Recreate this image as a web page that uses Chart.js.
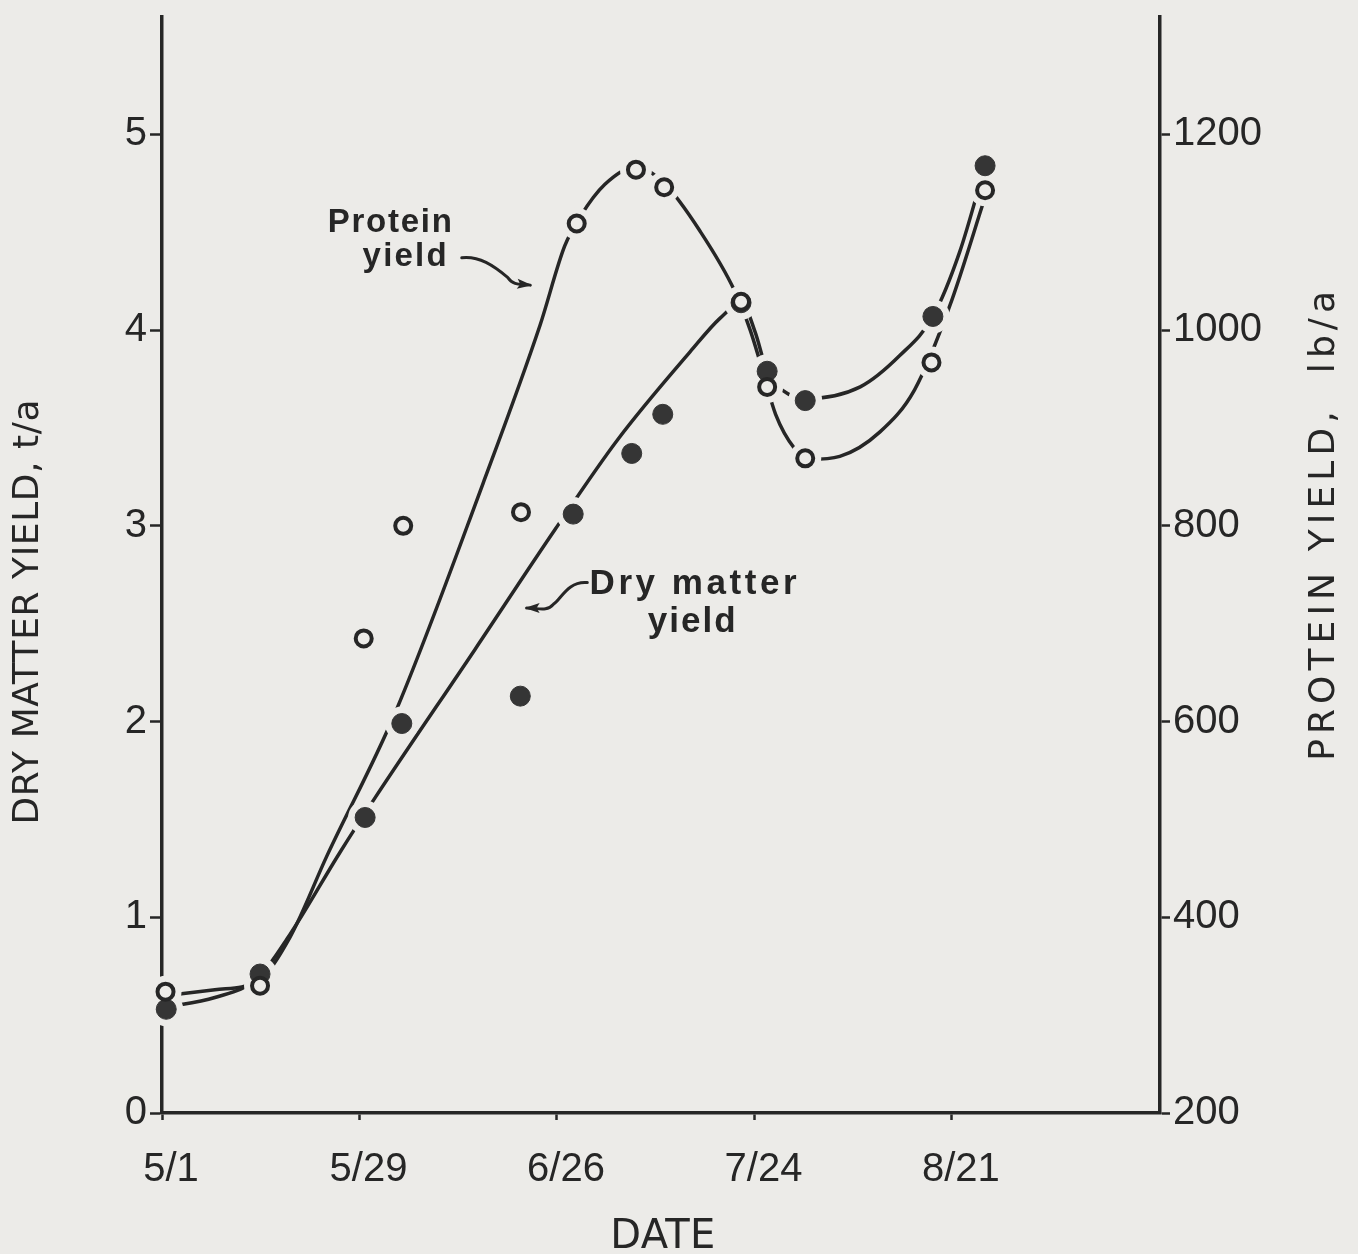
<!DOCTYPE html>
<html>
<head>
<meta charset="utf-8">
<script src="https://cdn.jsdelivr.net/npm/chart.js@4.4.0/dist/chart.umd.min.js"></script>
<style>
  html, body { margin: 0; padding: 0; background: #ecebe8; }
  #wrap { width: 1358px; height: 1254px; }
</style>
</head>
<body>
<div id="wrap"><canvas id="yieldChart" width="1358" height="1254"></canvas></div>
<script>
// ---------- values (x = days after May 1) ---------- //
const dateTicks = [0, 28, 56, 84, 112];
const dateLabels = ["5/1", "5/29", "6/26", "7/24", "8/21"];
const dryMatterTicks = [0, 1, 2, 3, 4, 5];
const proteinTicks = [200, 400, 600, 800, 1000, 1200];

// filled circles: dry matter yield, t/a
const dryMatterDays = [0.6, 13.9, 28.8, 34.0, 50.8, 58.3, 66.6, 71.0, 82.1, 85.8, 91.2, 109.3, 116.7];
const dryMatterYield = [0.53, 0.71, 1.51, 1.99, 2.13, 3.06, 3.37, 3.57, 4.14, 3.79, 3.64, 4.07, 4.84];

// open circles: protein yield, lb/a
const proteinDays = [0.5, 13.9, 28.6, 34.2, 50.9, 58.8, 67.2, 71.2, 82.1, 85.8, 91.2, 109.1, 116.7];
const proteinYield = [324, 330, 685, 800, 814, 1109, 1164, 1146, 1029, 942, 869, 967, 1143];

// hand drawn curves
const dryMatterCurveDays = [0.4, 7.5, 13.6, 18.1, 25.2, 30.2, 44.4, 55.7, 64.6, 74.9, 79.1, 82.2,
  84.1, 85.8, 89.0, 91.2, 99.0, 104.6, 109.3, 113.1, 116.7];
const dryMatterCurve = [0.54, 0.59, 0.69, 0.91, 1.33, 1.61, 2.37, 2.98, 3.44, 3.89, 4.06, 4.14,
  3.99, 3.79, 3.67, 3.65, 3.71, 3.87, 4.07, 4.40, 4.84];

const proteinCurveDays = [0.4, 7.5, 13.6, 18.1, 23.4, 33.0, 45.5, 53.6, 57.1, 59.3, 62.8, 67.2,
  71.2, 76.3, 81.2, 83.4, 85.1, 87.0, 89.7, 91.9, 96.1, 101.8, 106.7, 111.7, 116.7];
const proteinCurve = [320, 326, 335, 379, 463, 608, 843, 1005, 1086, 1116, 1149, 1167,
  1150, 1101, 1040, 1000, 960, 914, 879, 868, 871, 896, 939, 1025, 1136];

// ---------- helpers ---------- //
const INK = "#262626";
const PAPER = "#ecebe8";

function toPoints(xs, ys) {
  return xs.map((x, i) => ({ x: x, y: ys[i] }));
}

function fitText(ctx, text, x, y, width) {
  // draws text centred on x, stretched or squeezed to the given width
  ctx.letterSpacing = "0px";
  const natural = ctx.measureText(text).width;
  ctx.textAlign = "left";
  if (natural < width) {
    const gap = (width - natural) / (text.length - 1);
    ctx.letterSpacing = gap + "px";
    ctx.fillText(text, x - width / 2, y);
    ctx.letterSpacing = "0px";
  } else {
    ctx.fillText(text, x - width / 2, y, width);
  }
}

function arrowHead(ctx, tip, angle) {
  const len = 13, half = 5;
  ctx.save();
  ctx.translate(tip[0], tip[1]);
  ctx.rotate(angle);
  ctx.beginPath();
  ctx.moveTo(2, 0);
  ctx.lineTo(-len, -half);
  ctx.lineTo(-len + 3, 0);
  ctx.lineTo(-len, half);
  ctx.closePath();
  ctx.fill();
  ctx.restore();
}

const paperPlugin = {
  id: "paper",
  beforeDraw(chart) {
    const ctx = chart.ctx;
    ctx.save();
    ctx.fillStyle = PAPER;
    ctx.fillRect(0, 0, chart.width, chart.height);
    ctx.restore();
  },
};

const labelsPlugin = {
  id: "labels",
  afterDraw(chart) {
    const ctx = chart.ctx;
    const sx = chart.scales.x;
    const sy = chart.scales.y;
    const at = (d, v) => [sx.getPixelForValue(d), sy.getPixelForValue(v)];

    ctx.save();
    ctx.fillStyle = INK;
    ctx.strokeStyle = INK;
    ctx.textBaseline = "alphabetic";

    // axis titles
    ctx.font = "36px 'DejaVu Sans'";
    ctx.save();
    ctx.translate(38, sy.getPixelForValue(2.56));
    ctx.rotate(-Math.PI / 2);
    fitText(ctx, "DRY MATTER YIELD, t/a", 0, 0, 425);
    ctx.restore();

    ctx.save();
    ctx.translate(1334, sy.getPixelForValue(3.0));
    ctx.rotate(-Math.PI / 2);
    fitText(ctx, "PROTEIN YIELD,  lb/a", 0, 0, 470);
    ctx.restore();

    ctx.font = "40px 'DejaVu Sans'";
    fitText(ctx, "DATE", sx.getPixelForValue(71), 1248, 105);

    // curve labels
    ctx.font = "bold 33px 'Liberation Sans'";
    let p = at(32.3, 4.50);
    fitText(ctx, "Protein", p[0], p[1], 124);
    p = at(34.4, 4.33);
    fitText(ctx, "yield", p[0], p[1], 84);

    ctx.font = "bold 35px 'Liberation Sans'";
    p = at(75.3, 2.65);
    fitText(ctx, "Dry matter", p[0], p[1], 207);
    p = at(75.1, 2.46);
    fitText(ctx, "yield", p[0], p[1], 88);

    // arrows
    ctx.lineWidth = 3;
    ctx.lineCap = "round";
    ctx.beginPath();
    let a = at(42.5, 4.37), b = at(45.0, 4.38), c = at(47.0, 4.33), d = at(49.0, 4.27);
    ctx.moveTo(a[0], a[1]);
    ctx.bezierCurveTo(b[0], b[1], c[0], c[1], d[0], d[1]);
    b = at(50.0, 4.22); c = at(51.0, 4.24); d = at(52.2, 4.23);
    ctx.bezierCurveTo(b[0], b[1], c[0], c[1], d[0], d[1]);
    ctx.stroke();
    arrowHead(ctx, d, 0.1);

    ctx.beginPath();
    a = at(60.3, 2.71); b = at(57.5, 2.72); c = at(56.5, 2.62); d = at(55.5, 2.6);
    ctx.moveTo(a[0], a[1]);
    ctx.bezierCurveTo(b[0], b[1], c[0], c[1], d[0], d[1]);
    b = at(54.5, 2.56); c = at(53.5, 2.58); d = at(51.7, 2.58);
    ctx.bezierCurveTo(b[0], b[1], c[0], c[1], d[0], d[1]);
    ctx.stroke();
    arrowHead(ctx, d, Math.PI);

    ctx.restore();
  },
};

// ---------- chart ---------- //
const ctx = document.getElementById("yieldChart");

new Chart(ctx, {
  type: "scatter",
  data: {
    datasets: [
      {
        label: "Dry matter curve",
        data: toPoints(dryMatterCurveDays, dryMatterCurve),
        yAxisID: "y",
        showLine: true,
        borderColor: INK,
        borderWidth: 3.5,
        pointRadius: 0,
        cubicInterpolationMode: "monotone",
        order: 10,
      },
      {
        label: "Protein curve",
        data: toPoints(proteinCurveDays, proteinCurve),
        yAxisID: "y1",
        showLine: true,
        borderColor: INK,
        borderWidth: 3.5,
        pointRadius: 0,
        cubicInterpolationMode: "monotone",
        order: 10,
      },
      {
        // paper coloured discs that break the curves around each marker
        label: "halo dm",
        data: toPoints(dryMatterDays, dryMatterYield),
        yAxisID: "y",
        pointRadius: 17,
        pointBackgroundColor: PAPER,
        pointBorderColor: PAPER,
        pointBorderWidth: 0,
        clip: false,
        order: 5,
      },
      {
        label: "halo protein",
        data: toPoints(proteinDays, proteinYield),
        yAxisID: "y1",
        pointRadius: 16,
        pointBackgroundColor: PAPER,
        pointBorderColor: PAPER,
        pointBorderWidth: 0,
        clip: false,
        order: 5,
      },
      {
        label: "Dry matter yield",
        data: toPoints(dryMatterDays, dryMatterYield),
        yAxisID: "y",
        pointRadius: 10,
        pointBackgroundColor: "#353535",
        pointBorderColor: "#353535",
        pointBorderWidth: 1,
        clip: false,
        order: 2,
      },
      {
        label: "Protein yield",
        data: toPoints(proteinDays, proteinYield),
        yAxisID: "y1",
        pointRadius: 8,
        pointBackgroundColor: PAPER,
        pointBorderColor: INK,
        pointBorderWidth: 4,
        clip: false,
        order: 1,
      },
    ],
  },
  options: {
    responsive: false,
    animation: false,
    layout: { padding: { top: 13, left: 0, right: 0, bottom: 0 } },
    plugins: {
      legend: { display: false },
      tooltip: { enabled: false },
    },
    scales: {
      x: {
        type: "linear",
        min: 0,
        max: 141.5,
        afterBuildTicks: (s) => { s.ticks = dateTicks.map((v) => ({ value: v })); },
        afterFit: (s) => { s.height = 141; s.paddingLeft = 0; s.paddingRight = 0; },
        ticks: {
          callback: (v) => dateLabels[dateTicks.indexOf(v)],
          color: INK,
          font: { family: "'Liberation Sans'", size: 40 },
          padding: 26,
          labelOffset: 9,
          maxRotation: 0,
          autoSkip: false,
        },
        grid: { drawOnChartArea: false, tickLength: 7, tickColor: INK, tickWidth: 2.5 },
        border: { color: INK, width: 3.5 },
      },
      y: {
        position: "left",
        min: 0,
        max: 5.6,
        afterBuildTicks: (s) => { s.ticks = dryMatterTicks.map((v) => ({ value: v })); },
        afterFit: (s) => { s.width = 162; s.paddingTop = 0; s.paddingBottom = 0; },
        ticks: {
          callback: (v) => String(v),
          color: INK,
          font: { family: "'Liberation Sans'", size: 40 },
          padding: 3,
        },
        grid: { drawOnChartArea: false, tickLength: 12, tickColor: INK, tickWidth: 2.5 },
        border: { color: INK, width: 3.5 },
      },
      y1: {
        position: "right",
        min: 200,
        max: 1320,
        afterBuildTicks: (s) => { s.ticks = proteinTicks.map((v) => ({ value: v })); },
        afterFit: (s) => { s.width = 198; s.paddingTop = 0; s.paddingBottom = 0; },
        ticks: {
          callback: (v) => String(v),
          color: INK,
          font: { family: "'Liberation Sans'", size: 40 },
          padding: 3,
        },
        grid: { drawOnChartArea: false, tickLength: 10, tickColor: INK, tickWidth: 2.5 },
        border: { color: INK, width: 3.5 },
      },
    },
  },
  plugins: [paperPlugin, labelsPlugin],
});
</script>
</body>
</html>
